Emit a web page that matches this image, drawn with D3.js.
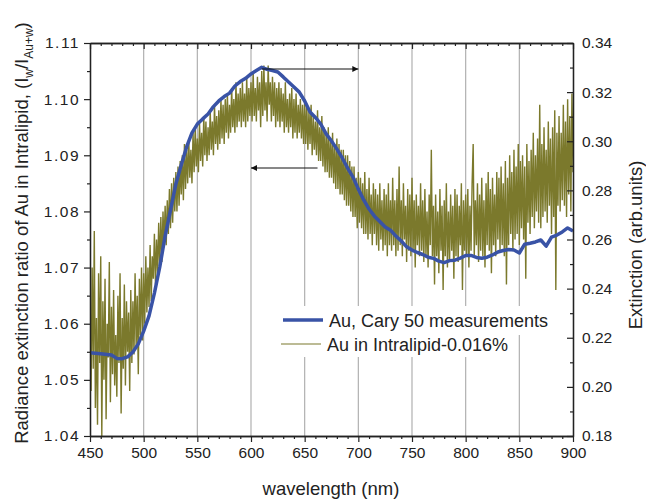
<!DOCTYPE html>
<html>
<head>
<meta charset="utf-8">
<script src="https://cdn.jsdelivr.net/npm/d3@7"></script>
<style>
    body { margin: 0; background: #fff; }
    svg { font-family: "Liberation Sans", Arial, sans-serif; }
    .tick text { fill: #222; }
</style>
</head>
<body>
<svg id="chart" width="646" height="500"></svg>
<script>
// Cary 50 measurement (right axis)
var caryWavelength = [450, 460, 470, 475, 480, 485, 490, 495, 500, 505, 510, 515, 520, 525, 530, 535, 540, 545, 550, 555,
    560, 565, 570, 575, 580, 585, 590, 595, 600, 605, 610, 615, 620, 625, 630, 635, 640, 645, 650, 655,
    660, 665, 670, 675, 680, 685, 690, 695, 700, 705, 710, 715, 720, 725, 730, 735, 740, 745, 750, 755,
    760, 765, 770, 775, 780, 785, 790, 795, 800, 805, 810, 815, 820, 825, 830, 835, 840, 845, 850, 855,
    860, 865, 870, 875, 880, 885, 890, 895, 900];
var caryExtinction = [0.2139, 0.2135, 0.2130, 0.2116, 0.2115, 0.2122, 0.2142, 0.2175, 0.2227, 0.2289, 0.2382, 0.2488, 0.2614, 0.2720, 0.2826, 0.2903, 0.2977, 0.3034, 0.3070, 0.3091,
    0.3111, 0.3141, 0.3164, 0.3182, 0.3196, 0.3225, 0.3243, 0.3256, 0.3274, 0.3288, 0.3301, 0.3293, 0.3288, 0.3282, 0.3262, 0.3241, 0.3221, 0.3200, 0.3164, 0.3119,
    0.3097, 0.3070, 0.3030, 0.3001, 0.2968, 0.2932, 0.2891, 0.2854, 0.2805, 0.2761, 0.2724, 0.2695, 0.2673, 0.2651, 0.2638, 0.2614, 0.2594, 0.2570, 0.2557, 0.2547,
    0.2539, 0.2528, 0.2523, 0.2512, 0.2506, 0.2514, 0.2516, 0.2524, 0.2535, 0.2535, 0.2527, 0.2524, 0.2528, 0.2537, 0.2549, 0.2555, 0.2559, 0.2557, 0.2545, 0.2581,
    0.2585, 0.2590, 0.2598, 0.2573, 0.2610, 0.2618, 0.2631, 0.2647, 0.2635];

// Au in Intralipid, one sample per nm from 450 to 900 (left axis)
var intralipidWavelength = d3.range(450, 901);
var intralipidRatio = [
    1.0640,1.0480,1.0700,1.0520,1.0765,1.0450,1.0610,1.0420,1.0690,1.0530,
    1.0720,1.0400,1.0640,1.0500,1.0680,1.0430,1.0600,1.0540,1.0710,1.0460,
    1.0630,1.0510,1.0660,1.0490,1.0580,1.0470,1.0650,1.0530,1.0690,1.0440,
    1.0610,1.0520,1.0670,1.0490,1.0640,1.0550,1.0620,1.0480,1.0660,1.0530,
    1.0640,1.0545,1.0690,1.0560,1.0650,1.0510,1.0680,1.0580,1.0700,1.0570,
    1.0690,1.0600,1.0720,1.0620,1.0700,1.0630,1.0740,1.0640,1.0720,1.0680,
    1.0760,1.0670,1.0750,1.0690,1.0780,1.0700,1.0790,1.0710,1.0800,1.0740,
    1.0810,1.0740,1.0820,1.0760,1.0840,1.0770,1.0850,1.0780,1.0860,1.0800,
    1.0870,1.0800,1.0880,1.0810,1.0890,1.0830,1.0900,1.0820,1.0920,1.0840,
    1.0910,1.0850,1.0930,1.0860,1.0910,1.0850,1.0940,1.0870,1.0950,1.0880,
    1.0930,1.0870,1.0960,1.0890,1.0940,1.0880,1.0970,1.0900,1.0960,1.0890,
    1.0950,1.0900,1.0980,1.0910,1.0960,1.0900,1.0990,1.0920,1.0970,1.0910,
    1.0980,1.0920,1.1000,1.0930,1.0990,1.0920,1.1000,1.0940,1.1010,1.0930,
    1.0990,1.0940,1.1020,1.0950,1.1000,1.0940,1.1030,1.0950,1.1010,1.0960,
    1.1020,1.0950,1.1030,1.0960,1.1010,1.0950,1.1040,1.0960,1.1020,1.0970,
    1.1030,1.0960,1.1050,1.0970,1.1020,1.0960,1.1040,1.0980,1.1030,1.0950,
    1.1050,1.0970,1.1060,1.0980,1.1030,1.0960,1.1060,1.0990,1.1030,1.0960,
    1.1040,1.0970,1.1030,1.0950,1.1020,1.0960,1.1030,1.0950,1.1020,1.0960,
    1.1010,1.0940,1.1030,1.0950,1.1000,1.0940,1.1010,1.0950,1.1020,1.0930,
    1.1000,1.0940,1.1010,1.0930,1.0990,1.0940,1.1000,1.0930,1.0990,1.0920,
    1.1000,1.0920,1.0990,1.0910,1.0980,1.0920,1.0990,1.0900,1.0970,1.0910,
    1.0960,1.0900,1.0980,1.0890,1.0950,1.0890,1.0970,1.0880,1.0950,1.0870,
    1.0940,1.0870,1.0950,1.0860,1.0930,1.0860,1.0940,1.0850,1.0920,1.0840,
    1.0930,1.0840,1.0920,1.0830,1.0910,1.0830,1.0910,1.0820,1.0900,1.0810,
    1.0900,1.0810,1.0890,1.0800,1.0880,1.0790,1.0880,1.0790,1.0860,1.0770,
    1.0870,1.0780,1.0860,1.0770,1.0850,1.0760,1.0870,1.0760,1.0840,1.0750,
    1.0860,1.0760,1.0830,1.0740,1.0850,1.0760,1.0840,1.0740,1.0830,1.0730,
    1.0850,1.0750,1.0820,1.0730,1.0840,1.0740,1.0830,1.0720,1.0850,1.0740,
    1.0820,1.0730,1.0860,1.0740,1.0820,1.0720,1.0840,1.0730,1.0880,1.0740,
    1.0820,1.0720,1.0850,1.0750,1.0810,1.0710,1.0840,1.0730,1.0830,1.0720,
    1.0860,1.0730,1.0820,1.0700,1.0830,1.0740,1.0810,1.0720,1.0850,1.0730,
    1.0820,1.0710,1.0840,1.0720,1.0800,1.0700,1.0830,1.0740,1.0910,1.0720,
    1.0810,1.0670,1.0830,1.0720,1.0800,1.0690,1.0840,1.0730,1.0810,1.0660,
    1.0820,1.0720,1.0850,1.0700,1.0800,1.0710,1.0830,1.0730,1.0810,1.0680,
    1.0840,1.0720,1.0830,1.0710,1.0810,1.0740,1.0850,1.0660,1.0820,1.0730,
    1.0830,1.0720,1.0840,1.0700,1.0810,1.0730,1.0850,1.0920,1.0720,1.0820,
    1.0740,1.0850,1.0710,1.0830,1.0730,1.0860,1.0720,1.0820,1.0700,1.0850,
    1.0740,1.0870,1.0730,1.0840,1.0690,1.0860,1.0740,1.0830,1.0720,1.0870,
    1.0750,1.0860,1.0730,1.0880,1.0740,1.0850,1.0720,1.0890,1.0670,1.0860,
    1.0740,1.0900,1.0760,1.0870,1.0730,1.0910,1.0750,1.0880,1.0760,1.0920,
    1.0740,1.0890,1.0770,1.0900,1.0750,1.0880,1.0680,1.0920,1.0780,1.0890,
    1.0760,1.0910,1.0790,1.0940,1.0770,1.0900,1.0800,1.0930,1.0780,1.0990,
    1.0770,1.0920,1.0790,1.0950,1.0800,1.0910,1.0780,1.0960,1.0810,1.0930,
    1.0760,1.0950,1.0790,1.0980,1.0660,1.0940,1.0810,1.0970,1.0800,1.0940,
    1.0820,1.0990,1.0810,1.0960,1.0790,1.1000,1.0830,1.0970,1.0800,1.1010,
    1.0870];

var xTicks = [450, 500, 550, 600, 650, 700, 750, 800, 850, 900];
var leftTicks = [1.04, 1.05, 1.06, 1.07, 1.08, 1.09, 1.10, 1.11];
var rightTicks = [0.18, 0.20, 0.22, 0.24, 0.26, 0.28, 0.30, 0.32, 0.34];

var svg = d3.select("#chart");

var plotLeft = 90, plotRight = 573, plotTop = 43, plotBottom = 436;

var x = d3.scaleLinear().domain([450, 900]).range([plotLeft, plotRight]);
var yL = d3.scaleLinear().domain([1.04, 1.11]).range([plotBottom, plotTop]);
var yR = d3.scaleLinear().domain([0.18, 0.34]).range([plotBottom, plotTop]);

var blue = "#3953a6", olive = "#7b792c";

var defs = svg.append("defs");
defs.append("clipPath").attr("id", "plot-clip")
    .append("rect")
    .attr("x", plotLeft).attr("y", plotTop)
    .attr("width", plotRight - plotLeft).attr("height", plotBottom - plotTop);

// vertical grid
svg.append("g")
    .selectAll("line")
    .data(xTicks.slice(1, -1))
    .enter().append("line")
    .attr("x1", d => x(d)).attr("x2", d => x(d))
    .attr("y1", plotTop).attr("y2", plotBottom)
    .attr("stroke", "#b0b0b0")
    .attr("stroke-width", 1.2);

var plot = svg.append("g").attr("clip-path", "url(#plot-clip)");

plot.append("path")
    .datum(intralipidRatio)
    .attr("fill", "none")
    .attr("stroke", olive)
    .attr("stroke-width", 1.4)
    .attr("d", d3.line()
        .x((d, i) => x(intralipidWavelength[i]))
        .y(d => yL(d)));

plot.append("path")
    .datum(caryExtinction)
    .attr("fill", "none")
    .attr("stroke", blue)
    .attr("stroke-width", 3.5)
    .attr("stroke-linejoin", "round")
    .attr("d", d3.line()
        .x((d, i) => x(caryWavelength[i]))
        .y(d => yR(d)));

// axes
function styleAxis(g) {
    g.selectAll(".domain").attr("stroke", "#222").attr("stroke-width", 1.3);
    g.selectAll(".tick line").attr("stroke", "#222").attr("stroke-width", 1.2);
    g.selectAll(".tick text").attr("font-size", 15.5);
}

var minorX = d3.range(450, 901, 10).filter(d => d % 50 !== 0);

svg.append("g")
    .attr("transform", `translate(0,${plotBottom})`)
    .call(d3.axisBottom(x).tickValues(xTicks).tickSize(6).tickPadding(5).tickSizeOuter(0))
    .call(styleAxis);
svg.append("g")
    .attr("transform", `translate(0,${plotBottom})`)
    .call(d3.axisBottom(x).tickValues(minorX).tickSize(3).tickFormat("").tickSizeOuter(0))
    .call(styleAxis);

svg.append("g")
    .attr("transform", `translate(0,${plotTop})`)
    .call(d3.axisBottom(x).tickValues(xTicks).tickSize(6).tickFormat("").tickSizeOuter(0))
    .call(styleAxis);
svg.append("g")
    .attr("transform", `translate(0,${plotTop})`)
    .call(d3.axisBottom(x).tickValues(minorX).tickSize(3).tickFormat("").tickSizeOuter(0))
    .call(styleAxis);

var leftAxis = svg.append("g")
    .attr("transform", `translate(${plotLeft},0)`)
    .call(d3.axisLeft(yL).tickValues(leftTicks).tickFormat(d3.format(".2f")).tickSize(6).tickPadding(4).tickSizeOuter(0))
    .call(styleAxis);
leftAxis.selectAll(".tick text").attr("letter-spacing", 1.5);
svg.append("g")
    .attr("transform", `translate(${plotLeft},0)`)
    .call(d3.axisLeft(yL).tickValues(d3.range(1.045, 1.11, 0.01)).tickSize(3).tickFormat("").tickSizeOuter(0))
    .call(styleAxis);

svg.append("g")
    .attr("transform", `translate(${plotRight},0)`)
    .call(d3.axisRight(yR).tickValues(rightTicks).tickFormat(d3.format(".2f")).tickSize(-6).tickPadding(9).tickSizeOuter(0))
    .call(styleAxis);
svg.append("g")
    .attr("transform", `translate(${plotRight},0)`)
    .call(d3.axisRight(yR).tickValues(d3.range(0.19, 0.34, 0.02)).tickSize(-3).tickFormat("").tickSizeOuter(0))
    .call(styleAxis);

// axis titles
svg.append("text")
    .attr("x", 331).attr("y", 495)
    .attr("text-anchor", "middle")
    .attr("font-size", 18.5)
    .attr("fill", "#222")
    .text("wavelength (nm)");

var yTitle = svg.append("text")
    .attr("transform", "translate(28,233) rotate(-90)")
    .attr("text-anchor", "middle")
    .attr("font-size", 18.5)
    .attr("fill", "#222");
yTitle.append("tspan").text("Radiance extinction ratio of Au in Intralipid, (I");
yTitle.append("tspan").attr("font-size", 12).attr("dy", 5).text("w");
yTitle.append("tspan").attr("dy", -5).text("/I");
yTitle.append("tspan").attr("font-size", 12).attr("dy", 5).text("Au+w");
yTitle.append("tspan").attr("dy", -5).text(")");

svg.append("text")
    .attr("transform", "translate(642,245) rotate(-90)")
    .attr("text-anchor", "middle")
    .attr("font-size", 18.5)
    .attr("fill", "#222")
    .text("Extinction (arb.units)");

// legend
var legend = svg.append("g");
legend.append("rect").attr("x", 278).attr("y", 306).attr("width", 266).attr("height", 29).attr("fill", "#fff");
legend.append("rect").attr("x", 278).attr("y", 335).attr("width", 232).attr("height", 22).attr("fill", "#fff");
legend.append("line")
    .attr("x1", 283).attr("x2", 323).attr("y1", 320).attr("y2", 320)
    .attr("stroke", blue).attr("stroke-width", 3.5);
legend.append("line")
    .attr("x1", 281).attr("x2", 321).attr("y1", 344).attr("y2", 344)
    .attr("stroke", olive).attr("stroke-width", 1.2);
legend.append("text")
    .attr("x", 329).attr("y", 327)
    .attr("font-size", 18)
    .attr("fill", "#222")
    .text("Au, Cary 50 measurements");
legend.append("text")
    .attr("x", 327).attr("y", 351)
    .attr("font-size", 18)
    .attr("fill", "#222")
    .text("Au in Intralipid-0.016%");

// arrows marking which axis each curve belongs to
defs.append("marker")
    .attr("id", "arrow")
    .attr("viewBox", "0 0 10 10")
    .attr("refX", 10).attr("refY", 5)
    .attr("markerWidth", 9).attr("markerHeight", 6)
    .attr("markerUnits", "userSpaceOnUse")
    .attr("orient", "auto")
    .append("path")
    .attr("d", "M0,0L10,5L0,10Z")
    .attr("fill", "#111");

svg.append("line")
    .attr("x1", x(610)).attr("x2", x(700)).attr("y1", 69).attr("y2", 69)
    .attr("stroke", "#111").attr("stroke-width", 1)
    .attr("marker-end", "url(#arrow)");
svg.append("line")
    .attr("x1", x(662)).attr("x2", x(600)).attr("y1", 168).attr("y2", 168)
    .attr("stroke", "#111").attr("stroke-width", 1)
    .attr("marker-end", "url(#arrow)");
</script>
</body>
</html>
